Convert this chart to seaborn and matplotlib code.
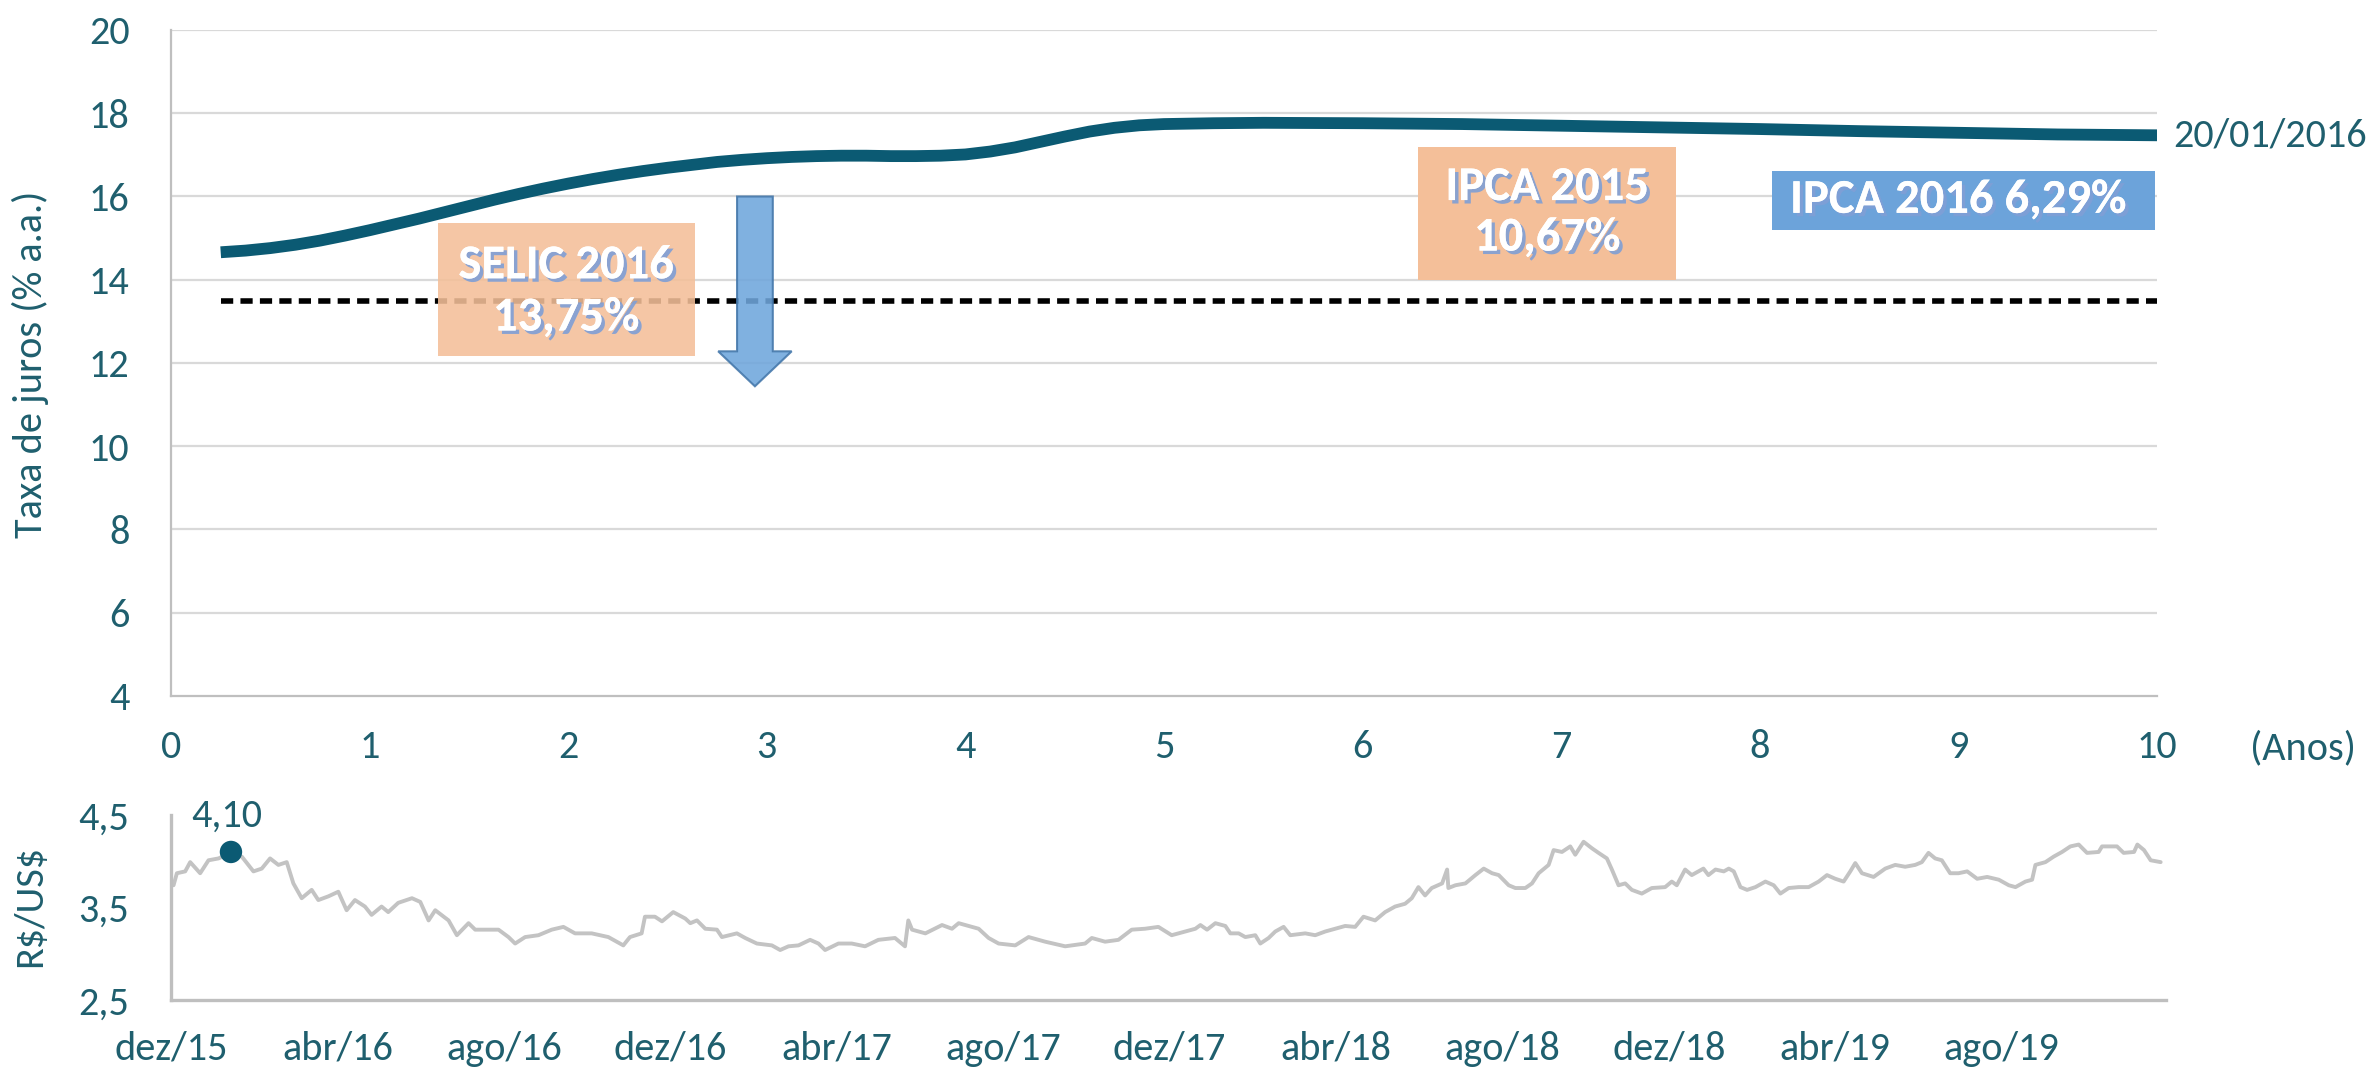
import matplotlib
matplotlib.use("Agg")
import pandas as pd
import matplotlib.pyplot as plt
import matplotlib.patheffects as pe
from matplotlib.patches import Rectangle, FancyArrow
import seaborn as sns

# Curva de juros (20/01/2016)
prazo_anos = [0.25, 0.375, 0.5, 0.625, 0.75, 0.875, 1.0, 1.125, 1.25, 1.375, 1.5, 1.625, 1.75, 1.875,
              2.0, 2.125, 2.25, 2.375, 2.5, 2.625, 2.75, 2.875, 3.0, 3.125, 3.25, 3.375, 3.5, 3.625,
              3.75, 3.875, 4.0, 4.125, 4.25, 4.375, 4.5, 4.625, 4.75, 4.875, 5.0, 5.25, 5.5, 6.0,
              6.5, 7.0, 7.5, 8.0, 8.5, 9.0, 9.5, 10.0]
taxa_juros = [14.66, 14.70, 14.76, 14.84, 14.94, 15.06, 15.19, 15.33, 15.47, 15.62, 15.77, 15.92, 16.06, 16.19,
              16.31, 16.42, 16.52, 16.61, 16.69, 16.76, 16.83, 16.88, 16.92, 16.95, 16.97, 16.98, 16.98, 16.97,
              16.97, 16.98, 17.01, 17.08, 17.18, 17.31, 17.44, 17.56, 17.65, 17.71, 17.74, 17.76, 17.77, 17.76,
              17.74, 17.70, 17.66, 17.62, 17.57, 17.53, 17.49, 17.47]
selic_x = [0.25, 10.0]
selic_y = [13.5, 13.5]
anos_ticks = list(range(0, 11))
juros_ticks = [4, 6, 8, 10, 12, 14, 16, 18, 20]

# Cambio R$/US$ (meses desde dez/15)
meses = [0.06, 0.14, 0.34, 0.46, 0.70, 0.90, 1.14, 1.34, 1.46, 1.70, 1.98, 2.18, 2.38, 2.58, 2.78, 2.94,
         3.14, 3.38, 3.54, 3.78, 4.02, 4.22, 4.42, 4.66, 4.82, 5.06, 5.22, 5.46, 5.79, 5.99, 6.19, 6.35,
         6.67, 6.87, 7.15, 7.31, 7.63, 7.87, 8.11, 8.27, 8.51, 8.83, 9.15, 9.43, 9.71, 10.11, 10.51, 10.87,
         11.03, 11.31, 11.39, 11.63, 11.80, 12.07, 12.36, 12.48, 12.64, 12.84, 13.12, 13.24, 13.60, 13.80,
         14.08, 14.44, 14.64, 14.84, 15.08, 15.36, 15.56, 15.72, 16.04, 16.36, 16.68, 17.00, 17.40, 17.64,
         17.72, 17.81, 18.13, 18.53, 18.77, 18.93, 19.41, 19.65, 19.89, 20.29, 20.61, 21.01, 21.49, 21.97,
         22.13, 22.45, 22.77, 23.09, 23.41, 23.73, 24.05, 24.38, 24.62, 24.74, 24.90, 25.10, 25.34, 25.46,
         25.66, 25.82, 26.06, 26.18, 26.38, 26.54, 26.74, 26.90, 27.26, 27.50, 27.74, 27.98, 28.22, 28.46,
         28.66, 28.94, 29.18, 29.42, 29.66, 29.82, 29.98, 30.14, 30.30, 30.55, 30.67, 30.70, 30.87, 31.11,
         31.35, 31.55, 31.75, 31.91, 32.15, 32.31, 32.55, 32.71, 32.87, 33.11, 33.23, 33.43, 33.63, 33.75,
         33.95, 34.15, 34.31, 34.51, 34.63, 34.79, 34.95, 35.11, 35.35, 35.59, 35.91, 36.07, 36.19, 36.39,
         36.55, 36.83, 36.95, 37.12, 37.32, 37.44, 37.56, 37.72, 37.88, 38.08, 38.32, 38.52, 38.68, 38.88,
         39.12, 39.36, 39.60, 39.80, 40.00, 40.20, 40.36, 40.48, 40.64, 40.92, 41.20, 41.44, 41.68, 41.92,
         42.08, 42.24, 42.40, 42.56, 42.76, 42.96, 43.17, 43.41, 43.65, 43.93, 44.17, 44.33, 44.57, 44.73,
         44.81, 45.05, 45.25, 45.45, 45.65, 45.85, 46.05, 46.33, 46.41, 46.77, 46.93, 47.18, 47.26, 47.42,
         47.58, 47.82]
cambio = [3.74, 3.87, 3.89, 3.99, 3.87, 4.01, 4.03, 4.07, 4.08, 4.05, 3.89, 3.92, 4.03, 3.96, 3.99, 3.76,
          3.60, 3.69, 3.58, 3.62, 3.67, 3.47, 3.58, 3.51, 3.42, 3.51, 3.45, 3.55, 3.60, 3.56, 3.36, 3.47,
          3.36, 3.20, 3.33, 3.26, 3.26, 3.26, 3.18, 3.11, 3.18, 3.20, 3.26, 3.29, 3.22, 3.22, 3.18, 3.09,
          3.18, 3.22, 3.40, 3.40, 3.35, 3.45, 3.38, 3.33, 3.36, 3.27, 3.26, 3.18, 3.22, 3.17,
          3.11, 3.09, 3.04, 3.08, 3.09, 3.15, 3.11, 3.04, 3.11, 3.11, 3.08, 3.15, 3.17, 3.08,
          3.36, 3.26, 3.22, 3.31, 3.27, 3.33, 3.27, 3.17, 3.11, 3.09, 3.18, 3.13, 3.08, 3.11,
          3.17, 3.13, 3.15, 3.26, 3.27, 3.29, 3.20, 3.24, 3.27, 3.31, 3.26, 3.33, 3.30, 3.22,
          3.22, 3.18, 3.20, 3.11, 3.17, 3.24, 3.29, 3.20, 3.22, 3.20, 3.24, 3.27, 3.30, 3.29,
          3.40, 3.36, 3.45, 3.51, 3.54, 3.60, 3.72, 3.63, 3.71, 3.76, 3.91, 3.71, 3.74, 3.76,
          3.85, 3.92, 3.87, 3.85, 3.74, 3.71, 3.71, 3.76, 3.87, 3.96, 4.12, 4.10, 4.16, 4.07,
          4.21, 4.14, 4.09, 4.03, 3.91, 3.74, 3.76, 3.69, 3.65, 3.71, 3.72, 3.78, 3.74, 3.91,
          3.85, 3.92, 3.85, 3.91, 3.89, 3.92, 3.89, 3.72, 3.69, 3.72, 3.78, 3.74, 3.65, 3.71,
          3.72, 3.72, 3.78, 3.85, 3.81, 3.78, 3.89, 3.98, 3.87, 3.83, 3.92, 3.96, 3.94, 3.96,
          3.99, 4.09, 4.03, 4.01, 3.87, 3.87, 3.89, 3.81, 3.83, 3.80, 3.74, 3.72, 3.78, 3.80,
          3.96, 3.99, 4.05, 4.10, 4.16, 4.18, 4.09, 4.10, 4.16, 4.16, 4.09, 4.10, 4.18, 4.12,
          4.01, 3.99]
pico_mes = [1.44]
pico_valor = [4.10]
cambio_ticks = [2.5, 3.5, 4.5]
cambio_labels = ["2,5", "3,5", "4,5"]
meses_ticks = [0, 4, 8, 12, 16, 20, 24, 28, 32, 36, 40, 44]
meses_labels = ["dez/15", "abr/16", "ago/16", "dez/16", "abr/17", "ago/17",
                "dez/17", "abr/18", "ago/18", "dez/18", "abr/19", "ago/19"]

curva = pd.DataFrame({"prazo": prazo_anos, "taxa": taxa_juros})
selic = pd.DataFrame({"prazo": selic_x, "taxa": selic_y})
dolar = pd.DataFrame({"mes": meses, "valor": cambio})

sns.set_theme(style="white")
plt.rcParams["font.family"] = ["Carlito", "IBM Plex Sans Condensed", "DejaVu Sans"]

teal = "#1f5f6e"
azul = "#0b5a73"
grade = "#d9d9d9"
eixo = "#bfbfbf"
fs = 29

fig = plt.figure(figsize=(23.79, 10.75), dpi=100)

# ---- curva de juros ----
ax = fig.add_axes([0.0719, 0.3526, 0.8348, 0.6195])
sns.lineplot(data=curva, x="prazo", y="taxa", ax=ax, color=azul, linewidth=8.5,
             solid_capstyle="butt", zorder=4)
sns.lineplot(data=selic, x="prazo", y="taxa", ax=ax, color="black", linewidth=4.0,
             linestyle=(0, (2.2, 1.3)), zorder=2)
ax.set_xlim(0, 10)
ax.set_ylim(4, 20)
ax.set_xticks(anos_ticks)
ax.set_yticks(juros_ticks)
ax.set_xticklabels([str(t) for t in anos_ticks])
ax.set_yticklabels([str(t) for t in juros_ticks])
ax.tick_params(axis="x", length=0, pad=24, labelsize=fs, labelcolor=teal)
ax.tick_params(axis="y", length=0, pad=30, labelsize=fs, labelcolor=teal)
ax.set_xlabel("")
ax.set_ylabel("")
for y in juros_ticks[1:]:
    ax.axhline(y, color=grade, linewidth=1.6, zorder=0)
for s in ["top", "right"]:
    ax.spines[s].set_visible(False)
for s in ["left", "bottom"]:
    ax.spines[s].set_color(eixo)
    ax.spines[s].set_linewidth(1.6)

shadow = [pe.withSimplePatchShadow(offset=(2.5, -2.5), shadow_rgbFace="#7f9fd6", alpha=0.9), pe.Normal()]

# caixa SELIC (transparente sobre a linha tracejada)
ax.add_patch(Rectangle((1.345, 12.16), 1.295, 3.21, facecolor="#f4bf99", alpha=0.88,
                       edgecolor="none", zorder=3))
ax.text(1.99, 13.72, "SELIC 2016\n13,75%", ha="center", va="center", color="white",
        fontsize=35, fontweight="bold", linespacing=1.3, zorder=5, path_effects=shadow)

# seta para baixo
ax.add_patch(FancyArrow(2.94, 16.0, 0, -4.56, width=0.18, head_width=0.37, head_length=0.84,
                        length_includes_head=True, facecolor="#6fa6dc", edgecolor="#4477aa",
                        linewidth=1.5, alpha=0.88, zorder=3))

# caixa IPCA 2015
ax.add_patch(Rectangle((6.28, 13.99), 1.30, 3.2, facecolor="#f4bf99", edgecolor="none", zorder=3))
ax.text(6.93, 15.62, "IPCA 2015\n10,67%", ha="center", va="center", color="white",
        fontsize=35, fontweight="bold", linespacing=1.25, zorder=5, path_effects=shadow)

# caixa IPCA 2016
ax.add_patch(Rectangle((8.06, 15.19), 1.93, 1.42, facecolor="#6ca3da", edgecolor="none", zorder=3))
ax.text(9.0, 15.92, "IPCA 2016 6,29%", ha="center", va="center", color="white",
        fontsize=35, fontweight="bold", zorder=5, path_effects=shadow)

ax.text(10.08, taxa_juros[-1], "20/01/2016", ha="left", va="center", color=teal, fontsize=fs)
fig.text(0.968, 0.304, "(Anos)", ha="center", va="center", color=teal, fontsize=fs)
fig.text(0.0126, 0.661, "Taxa de juros (% a.a.)", rotation=90, ha="center", va="center",
         color=teal, fontsize=fs)

# ---- cambio ----
bx = fig.add_axes([0.0719, 0.0698, 0.8386, 0.1721])
sns.lineplot(data=dolar, x="mes", y="valor", ax=bx, color="#c3c3c3", linewidth=2.8, zorder=2)
sns.scatterplot(x=pico_mes, y=pico_valor, ax=bx, color=azul, s=260, edgecolor="none", zorder=3)
bx.text(pico_mes[0] - 0.1, 4.3, "4,10", ha="center", va="bottom", color=teal, fontsize=fs)
bx.set_xlim(0, 47.95)
bx.set_ylim(2.5, 4.5)
bx.set_xticks(meses_ticks)
bx.set_xticklabels(meses_labels)
bx.set_yticks(cambio_ticks)
bx.set_yticklabels(cambio_labels)
bx.tick_params(axis="x", length=0, pad=22, labelsize=fs, labelcolor=teal)
bx.tick_params(axis="y", length=0, pad=30, labelsize=fs, labelcolor=teal)
bx.set_xlabel("")
bx.set_ylabel("")
for s in ["top", "right"]:
    bx.spines[s].set_visible(False)
for s in ["left", "bottom"]:
    bx.spines[s].set_color(eixo)
    bx.spines[s].set_linewidth(2.4)
fig.text(0.0126, 0.157, "R\\$/US\\$", rotation=90, ha="center", va="center",
         color=teal, fontsize=fs)

fig.savefig("out.png", dpi=100, facecolor="white")
